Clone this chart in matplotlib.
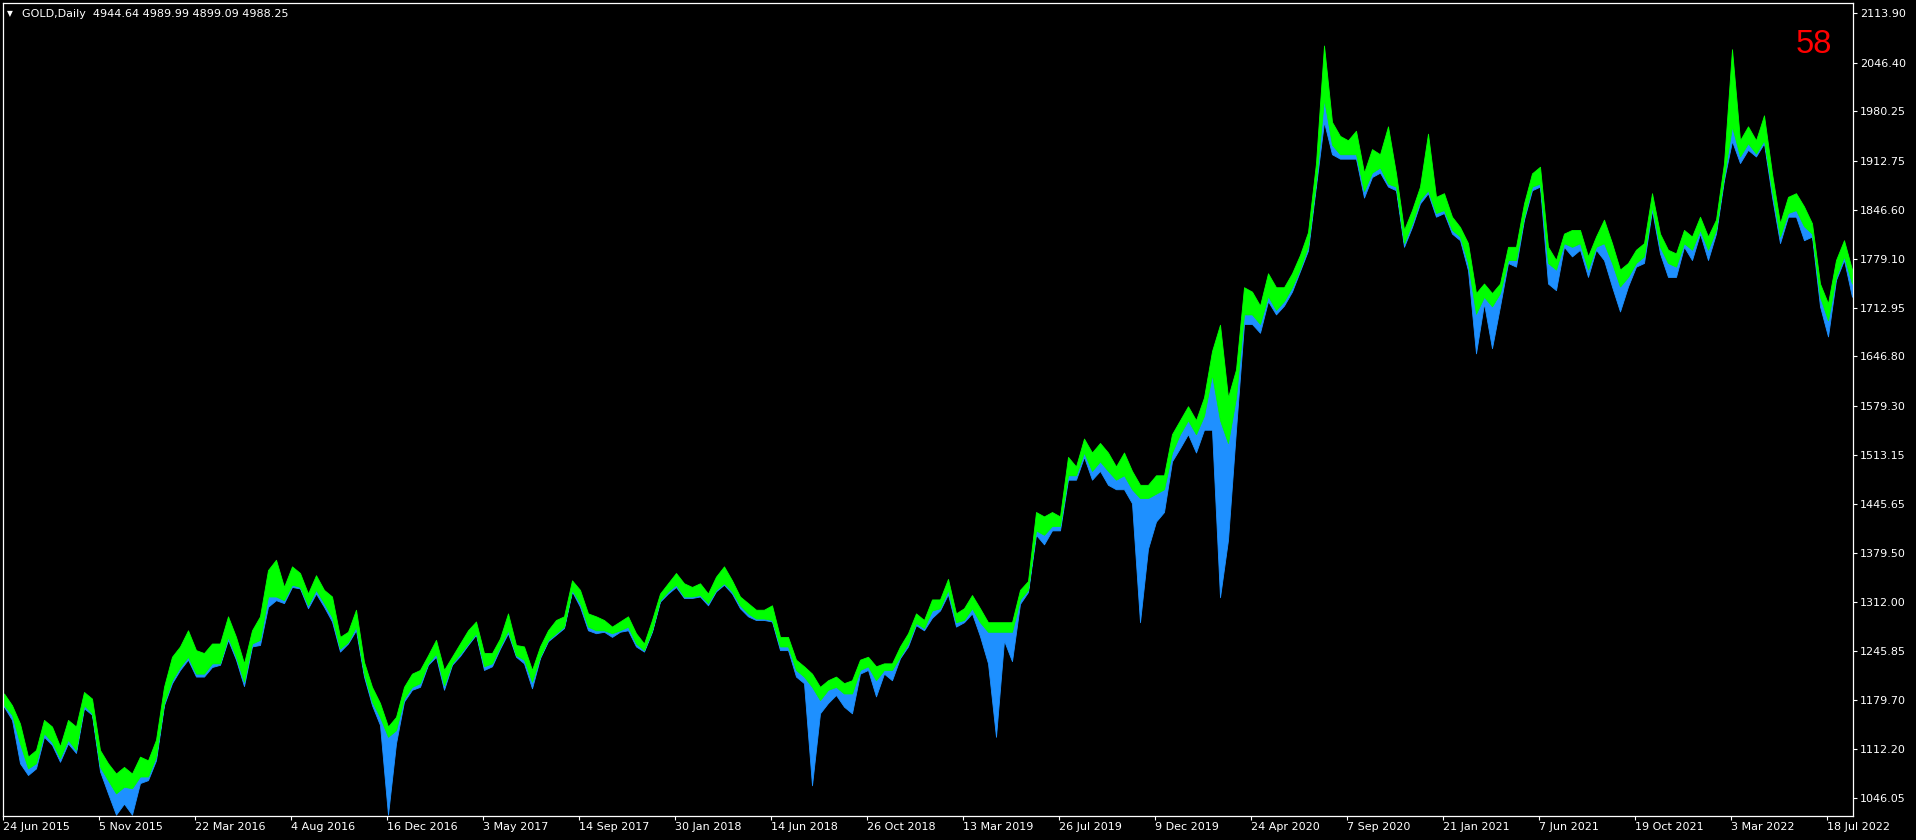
import matplotlib
matplotlib.use('Agg')
import matplotlib.pyplot as plt
import numpy as np

# green top (high), green bottom / blue top (mid), blue bottom (low), one value every 8 bars
hi = [1188, 1172, 1147, 1102, 1111, 1152, 1143, 1116, 1152, 1143,
      1190, 1181, 1111, 1093, 1079, 1088, 1079, 1102, 1097, 1125,
      1197, 1238, 1252, 1274, 1247, 1243, 1256, 1256, 1293, 1265,
      1229, 1274, 1293, 1356, 1370, 1333, 1361, 1352, 1324, 1349,
      1329, 1320, 1265, 1272, 1302, 1231, 1197, 1175, 1143, 1156,
      1197, 1215, 1220, 1240, 1261, 1220, 1238, 1256, 1274,
      1286, 1243, 1243, 1263, 1297, 1254, 1252, 1220, 1252, 1274,
      1288, 1293, 1342, 1329, 1297, 1293, 1288, 1279, 1286, 1293,
      1270, 1256, 1288, 1324, 1338, 1352, 1338, 1333, 1338, 1324,
      1347, 1361, 1342, 1320, 1311, 1302, 1302, 1308, 1265, 1265,
      1234, 1225, 1215, 1197, 1206, 1211, 1202, 1206, 1234, 1238,
      1225, 1229, 1229, 1252, 1270, 1297, 1288,
      1316, 1316, 1344, 1297, 1304, 1322, 1304, 1285, 1285, 1285,
      1285, 1329, 1341, 1435, 1429, 1435, 1429, 1510, 1497, 1535,
      1516, 1529, 1516, 1497, 1516, 1491, 1472, 1472, 1485, 1485,
      1541, 1560, 1579, 1560, 1591, 1654, 1690, 1591, 1629, 1741,
      1735, 1716, 1760, 1741, 1741, 1760, 1785, 1816, 1910, 2070,
      1966, 1947, 1941, 1954, 1897, 1929, 1922,
      1960, 1896, 1819, 1846, 1878, 1950, 1864, 1869, 1837, 1823,
      1801, 1733, 1746, 1733, 1746, 1796, 1796, 1855, 1896, 1905,
      1796, 1778, 1814, 1819, 1819, 1783, 1810, 1833, 1801, 1765,
      1774, 1792, 1801, 1869, 1814, 1792, 1787, 1819, 1810, 1837,
      1810, 1833, 1910, 2065, 1941, 1960, 1941, 1975, 1896, 1828,
      1864, 1869, 1851, 1828, 1746, 1719, 1778, 1805, 1765]

mid = [1172, 1159, 1120, 1086, 1093, 1134, 1122, 1100, 1125, 1111,
       1172, 1161, 1088, 1070, 1052, 1061, 1059, 1075, 1075, 1102,
       1175, 1206, 1224, 1238, 1215, 1215, 1229, 1229, 1265, 1238,
       1204, 1256, 1261, 1320, 1320, 1315, 1336, 1333, 1308, 1329,
       1311, 1292, 1249, 1258, 1279, 1215, 1177, 1156, 1129, 1138,
       1181, 1197, 1202, 1229, 1242, 1199, 1229, 1242, 1256,
       1270, 1225, 1229, 1252, 1274, 1240, 1234, 1204, 1238, 1261,
       1270, 1279, 1329, 1311, 1279, 1274, 1274, 1270, 1274, 1279,
       1256, 1247, 1274, 1315, 1327, 1336, 1320, 1320, 1322, 1311,
       1329, 1338, 1327, 1308, 1297, 1290, 1290, 1288, 1252, 1252,
       1220, 1211, 1197, 1179, 1193, 1197, 1188, 1188, 1220, 1225,
       1206, 1220, 1220, 1238, 1256, 1284, 1277,
       1301, 1304, 1329, 1285, 1288, 1304, 1285, 1272, 1272, 1272,
       1272, 1316, 1329, 1410, 1404, 1416, 1416, 1485, 1485, 1516,
       1491, 1504, 1491, 1479, 1485, 1466, 1454, 1454, 1460, 1466,
       1516, 1541, 1560, 1541, 1566, 1622, 1560, 1529, 1591, 1704,
       1704, 1691, 1729, 1710, 1722, 1741, 1766, 1797, 1885, 1997,
       1935, 1922, 1922, 1922, 1872, 1897, 1904,
       1882, 1878, 1801, 1828, 1860, 1873, 1842, 1846, 1819, 1810,
       1774, 1705, 1728, 1715, 1733, 1778, 1778, 1837, 1878, 1882,
       1774, 1765, 1801, 1796, 1801, 1765, 1796, 1801, 1774, 1742,
       1755, 1774, 1783, 1851, 1796, 1774, 1769, 1801, 1792, 1819,
       1792, 1819, 1892, 1960, 1919, 1937, 1923, 1941, 1873, 1810,
       1842, 1846, 1824, 1814, 1728, 1696, 1755, 1783, 1746]

lo = [1170, 1152, 1093, 1077, 1086, 1129, 1118, 1095, 1120, 1107,
      1168, 1159, 1082, 1052, 1023, 1038, 1023, 1066, 1070, 1097,
      1172, 1202, 1220, 1234, 1211, 1211, 1224, 1227, 1261, 1234,
      1198, 1252, 1254, 1306, 1315, 1311, 1333, 1331, 1304, 1324,
      1306, 1286, 1245, 1256, 1274, 1211, 1172, 1145, 1023, 1120,
      1177, 1193, 1197, 1227, 1238, 1193, 1227, 1239, 1254,
      1268, 1220, 1225, 1249, 1270, 1238, 1229, 1195, 1236, 1259,
      1268, 1277, 1327, 1306, 1274, 1270, 1272, 1265, 1272, 1274,
      1252, 1245, 1272, 1313, 1324, 1333, 1318, 1318, 1320, 1308,
      1327, 1336, 1324, 1304, 1293, 1288, 1288, 1286, 1247, 1247,
      1211, 1202, 1063, 1161, 1175, 1186, 1170, 1161, 1215, 1220,
      1184, 1215, 1206, 1236, 1252, 1281, 1274,
      1291, 1301, 1323, 1279, 1285, 1297, 1266, 1229, 1129, 1260,
      1232, 1310, 1326, 1404, 1391, 1410, 1410, 1479, 1479, 1510,
      1479, 1491, 1472, 1466, 1466, 1447, 1285, 1385, 1422, 1435,
      1504, 1522, 1541, 1516, 1547, 1547, 1319, 1397, 1547, 1691,
      1691, 1679, 1722, 1704, 1716, 1735, 1763, 1791, 1879, 1966,
      1922, 1916, 1916, 1916, 1863, 1891, 1897,
      1878, 1873, 1796, 1823, 1855, 1869, 1837, 1842, 1814, 1805,
      1764, 1651, 1719, 1658, 1715, 1774, 1769, 1833, 1873, 1878,
      1746, 1737, 1796, 1783, 1792, 1755, 1792, 1778, 1742, 1708,
      1742, 1769, 1774, 1846, 1787, 1755, 1755, 1796, 1778, 1814,
      1778, 1814, 1887, 1940, 1910, 1928, 1919, 1937, 1864, 1801,
      1837, 1837, 1805, 1810, 1715, 1674, 1751, 1778, 1728]

date_labels = ['24 Jun 2015', '5 Nov 2015', '22 Mar 2016', '4 Aug 2016', '16 Dec 2016',
               '3 May 2017', '14 Sep 2017', '30 Jan 2018', '14 Jun 2018', '26 Oct 2018',
               '13 Mar 2019', '26 Jul 2019', '9 Dec 2019', '24 Apr 2020', '7 Sep 2020',
               '21 Jan 2021', '7 Jun 2021', '19 Oct 2021', '3 Mar 2022', '18 Jul 2022']
price_ticks = [2113.90, 2046.40, 1980.25, 1912.75, 1846.60, 1779.10, 1712.95, 1646.80,
               1579.30, 1513.15, 1445.65, 1379.50, 1312.00, 1245.85, 1179.70, 1112.20, 1046.05]

header = 'GOLD,Daily  4944.64 4989.99 4899.09 4988.25'
counter = '58'

W, H = 1916, 840
fig = plt.figure(figsize=(W / 100, H / 100), dpi=100, facecolor='black')
ax = fig.add_axes([3 / W, 24 / H, 1850 / W, 813 / H])
ax.set_facecolor('black')

bars = np.arange(len(hi)) * 8 + 1
ax.fill_between(bars, lo, mid, color='#1E90FF', lw=0.6)
ax.fill_between(bars, mid, hi, color='#00FF00', lw=0.6)

ax.set_xlim(0, 1850)
ax.set_ylim(1021.2, 2127.9)

ax.set_xticks(np.arange(len(date_labels)) * 96)
ax.set_xticklabels(date_labels, ha='left')
ax.yaxis.tick_right()
ax.set_yticks(price_ticks)
ax.set_yticklabels([f'{p:.2f}' for p in price_ticks])
ax.tick_params(colors='white', direction='out', length=3, width=0.8, pad=2, labelsize=8)
ax.tick_params(axis='x', pad=1.5)
for s in ax.spines.values():
    s.set_color('white')
    s.set_linewidth(0.9)

fig.text(7 / W, 1 - 16 / H, '\u25bc', color='white', fontsize=5.5, va='baseline')
fig.text(22 / W, 1 - 17 / H, header, color='white', fontsize=8, va='baseline')
fig.text(1796 / W, 1 - 53 / H, counter, color='#FF0000', fontsize=23.5,
         family='Liberation Sans', va='baseline')

fig.savefig('out.png', dpi=100, facecolor='black')
